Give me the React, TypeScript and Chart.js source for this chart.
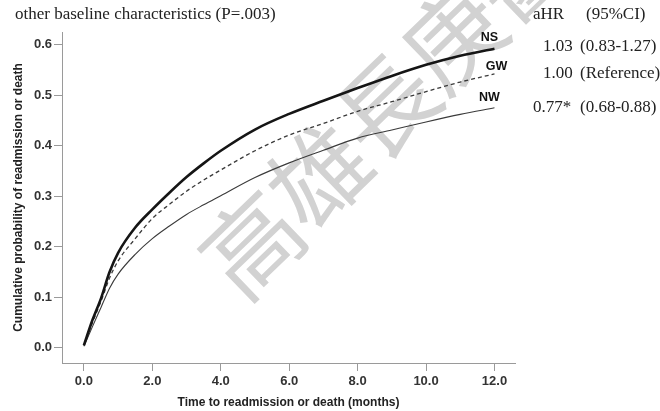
import React, { useEffect, useRef } from "react";
import { Chart, registerables } from "chart.js";

Chart.register(...registerables);

// ---- Data ----
const months: number[] = [0, 0.25, 0.5, 0.75, 1, 1.5, 2, 2.5, 3, 3.5, 4, 5, 6, 7, 8, 9, 10, 11, 12];
const nsValues: number[] = [0.005, 0.055, 0.098, 0.15, 0.188, 0.238, 0.274, 0.307, 0.338, 0.365, 0.39, 0.432, 0.463, 0.489, 0.514, 0.538, 0.56, 0.578, 0.592];
const gwValues: number[] = [0.005, 0.05, 0.092, 0.138, 0.172, 0.216, 0.256, 0.284, 0.31, 0.332, 0.352, 0.39, 0.421, 0.444, 0.468, 0.487, 0.507, 0.526, 0.542];
const nwValues: number[] = [0.003, 0.042, 0.08, 0.118, 0.146, 0.185, 0.216, 0.241, 0.264, 0.283, 0.301, 0.337, 0.366, 0.391, 0.415, 0.431, 0.447, 0.462, 0.475];
const seriesNames: string[] = ["NS", "GW", "NW"];

const titleText = "other baseline characteristics (P=.003)";
const tableHeader: string[] = ["aHR", "(95%CI)"];
const tableHR: string[] = ["1.03", "1.00", "0.77*"];
const tableCI: string[] = ["(0.83-1.27)", "(Reference)", "(0.68-0.88)"];
const watermarkChars: string[] = ["高", "雄", "長", "庚", "醫"];

const xTitle = "Time to readmission or death (months)";
const yTitle = "Cumulative probability of readmission or death";

const toPoints = (vals: number[]) => vals.map((v, i) => ({ x: months[i], y: v }));

const labelOffsets: [number, number][] = [
  [-5, -11],
  [2, -7],
  [-5, -10],
];

const curveLabelPlugin = {
  id: "curveLabels",
  afterDatasetsDraw(chart: any) {
    const ctx = chart.ctx;
    ctx.save();
    ctx.font = "bold 12.5px 'Liberation Sans', Arial, sans-serif";
    ctx.fillStyle = "#111";
    ctx.textAlign = "center";
    ctx.textBaseline = "middle";
    chart.data.datasets.forEach((ds: any, i: number) => {
      const meta = chart.getDatasetMeta(i);
      const last = meta.data[meta.data.length - 1];
      if (!last) return;
      const [dx, dy] = labelOffsets[i];
      ctx.fillText(ds.label, last.x + dx, last.y + dy);
    });
    ctx.restore();
  },
};

function ChartCanvas() {
  const ref = useRef<HTMLCanvasElement | null>(null);
  useEffect(() => {
    if (!ref.current) return;
    const tickFont = { family: "'Liberation Sans', Arial, sans-serif", size: 13, weight: "bold" as const };
    const titleFont = { family: "'Liberation Sans', Arial, sans-serif", size: 12, weight: "bold" as const };
    const chart = new Chart(ref.current, {
      type: "line",
      data: {
        datasets: [
          {
            label: seriesNames[0],
            data: toPoints(nsValues),
            borderColor: "#151515",
            borderWidth: 2.6,
            pointRadius: 0,
            cubicInterpolationMode: "monotone",
            fill: false,
          },
          {
            label: seriesNames[1],
            data: toPoints(gwValues),
            borderColor: "#3a3a3a",
            borderWidth: 1.3,
            borderDash: [4, 3],
            pointRadius: 0,
            cubicInterpolationMode: "monotone",
            fill: false,
          },
          {
            label: seriesNames[2],
            data: toPoints(nwValues),
            borderColor: "#3a3a3a",
            borderWidth: 1.1,
            pointRadius: 0,
            cubicInterpolationMode: "monotone",
            fill: false,
          },
        ],
      },
      options: {
        responsive: false,
        animation: false,
        layout: { padding: { top: 32, right: 145, left: 0, bottom: 0 } },
        plugins: {
          legend: { display: false },
          tooltip: { enabled: false },
        },
        scales: {
          x: {
            type: "linear",
            min: -0.64,
            max: 12.6,
            afterFit: (s: any) => {
              s.height = 48;
            },
            ticks: {
              stepSize: 2,
              includeBounds: false,
              padding: 3,
              color: "#333",
              font: tickFont,
              maxRotation: 0,
              callback: (v: any) => Number(v).toFixed(1),
            },
            grid: { drawOnChartArea: false, drawTicks: true, tickLength: 8, color: "#9a9a9a", lineWidth: 1 },
            border: { display: true, color: "#9a9a9a", width: 1 },
            title: { display: true, text: xTitle, color: "#222", font: titleFont, padding: { top: 0, bottom: 1 } },
          },
          y: {
            type: "linear",
            min: -0.03,
            max: 0.625,
            afterFit: (s: any) => {
              s.width = 62;
            },
            ticks: {
              stepSize: 0.1,
              includeBounds: false,
              padding: 2,
              color: "#333",
              font: tickFont,
              callback: (v: any) => Number(v).toFixed(1),
            },
            grid: { drawOnChartArea: false, drawTicks: true, tickLength: 8, color: "#9a9a9a", lineWidth: 1 },
            border: { display: true, color: "#9a9a9a", width: 1 },
            title: { display: true, text: yTitle, color: "#222", font: titleFont, padding: { top: 11, bottom: 0 } },
          },
        },
      },
      plugins: [curveLabelPlugin],
    });
    return () => chart.destroy();
  }, []);
  return <canvas ref={ref} width={660} height={411} style={{ position: "absolute", left: 0, top: 0, zIndex: 1 }} />;
}

const serif = "'Liberation Serif', 'Times New Roman', serif";

function SerifText({ text, left, baseline, size = 17 }: { text: string; left: number; baseline: number; size?: number }) {
  return (
    <div
      style={{
        position: "absolute",
        left,
        top: baseline - 0.838 * size,
        fontFamily: serif,
        fontSize: size,
        lineHeight: `${size}px`,
        color: "#222",
        whiteSpace: "nowrap",
        zIndex: 2,
      }}
    >
      {text}
    </div>
  );
}

export default function App() {
  const wmStart: [number, number] = [248, 240];
  const wmStep: [number, number] = [67, -69];
  const hrLefts = [543, 543, 533];
  const rowBaselines = [51, 78, 112];
  return (
    <div style={{ position: "fixed", left: 0, top: 0, width: 660, height: 411, background: "#fff", overflow: "hidden" }}>
      {watermarkChars.map((c, i) => (
        <span
          key={i}
          style={{
            position: "absolute",
            left: wmStart[0] + wmStep[0] * i,
            top: wmStart[1] + wmStep[1] * i,
            transform: "translate(-50%, -50%) rotate(-44deg)",
            fontFamily: "'Noto Sans CJK TC', 'Noto Sans CJK SC', sans-serif",
            fontWeight: 400,
            fontSize: 98,
            lineHeight: 1,
            color: "#d2d2d2",
            zIndex: 0,
          }}
        >
          {c}
        </span>
      ))}
      <ChartCanvas />
      <SerifText text={titleText} left={15} baseline={19} />
      <SerifText text={tableHeader[0]} left={533} baseline={19} />
      <SerifText text={tableHeader[1]} left={586} baseline={19} />
      {tableHR.map((t, i) => (
        <SerifText key={"hr" + i} text={t} left={hrLefts[i]} baseline={rowBaselines[i]} />
      ))}
      {tableCI.map((t, i) => (
        <SerifText key={"ci" + i} text={t} left={580} baseline={rowBaselines[i]} />
      ))}
    </div>
  );
}
